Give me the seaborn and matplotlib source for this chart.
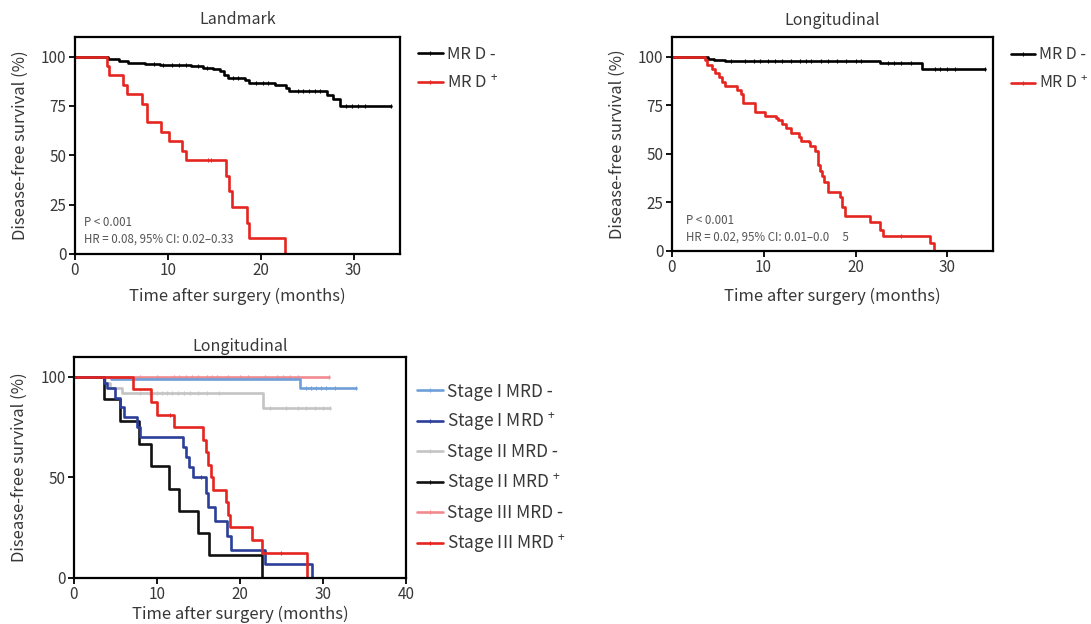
import numpy as np
import matplotlib.pyplot as plt
from matplotlib.lines import Line2D
import seaborn as sns

sns.set_style('ticks')
plt.rcParams['font.family'] = ['Noto Sans CJK SC', 'DejaVu Sans']
plt.rcParams['font.weight'] = 'light'
plt.rcParams['mathtext.default'] = 'regular'

TXT = '#383838'

# ---------------------------------------------------------------------------
# Dane (czas w miesiącach, przeżycie w %)
# ---------------------------------------------------------------------------

# Landmark
lm_neg_t = [0, 3.6, 4.7, 5.7, 7.5, 9.2, 12.5, 13.8, 14.9, 15.6, 16.0, 16.5,
            18.3, 18.7, 21.5, 22.7, 23.0, 27.1, 27.8, 28.5, 34.0]
lm_neg_s = [100, 99, 98, 97, 96.5, 96, 95.4, 94.4, 93.6, 92.7, 90.7, 89.3,
            88.1, 86.5, 85.5, 84, 82.5, 80.5, 78.6, 75, 75]
lm_neg_c = [8.5, 9.5, 10.5, 11.2, 12.0, 13.2, 14.2, 17.0, 17.6, 19.5, 20.2,
            20.8, 24.0, 24.6, 25.2, 25.8, 26.4, 29.2, 29.8, 30.5, 31.2, 34.0]
lm_pos_t = [0, 3.5, 3.7, 5.2, 5.6, 7.2, 7.8, 9.3, 10.1, 11.5, 12.0, 16.3,
            16.6, 16.9, 18.5, 18.7, 22.6]
lm_pos_s = [100, 95.2, 90.5, 85.7, 81.0, 76.2, 66.7, 61.9, 57.1, 52.4, 47.6,
            39.7, 31.7, 23.8, 15.9, 7.9, 0]
lm_pos_c = [14.3, 14.7]

# Longitudinal
lg_neg_t = [0, 4.0, 4.6, 5.8, 22.7, 27.2, 34.1]
lg_neg_s = [100, 99.1, 98.4, 97.9, 96.6, 93.5, 93.5]
lg_neg_c = [6.5, 8.0, 9.0, 9.6, 10.5, 11.2, 12.0, 13.0, 14.0, 14.6, 15.2,
            16.2, 17.0, 18.0, 19.0, 20.0, 20.6, 23.5, 24.2, 25.0, 26.0,
            28.6, 29.2, 30.0, 30.8, 34.1]
lg_pos_t = [0, 3.6, 3.8, 4.4, 4.7, 5.1, 5.5, 5.8, 7.1, 7.5, 7.8, 9.1, 10.2,
            11.3, 11.6, 12.0, 12.4, 13.0, 13.8, 14.1, 14.9, 15.1, 15.6, 15.9,
            16.1, 16.4, 16.6, 17.0, 18.3, 18.5, 18.9, 21.6, 22.7, 23.0, 28.1,
            28.5]
lg_pos_s = [100, 98.3, 95.7, 93.6, 91.5, 89.4, 87.2, 85.1, 82.8, 80.9, 76.3,
            71.7, 69.6, 68.3, 67.2, 65.4, 63.1, 60.9, 58.7, 56.8, 56.0, 53.8,
            51.6, 44.5, 41.0, 38.5, 35.5, 30.5, 28.0, 22.8, 17.8, 14.9, 10.8,
            7.6, 3.8, 0]
lg_pos_c = [25.0]

# Longitudinal wg stadium
s1_neg_t = [0, 4.5, 27.2, 34.0]
s1_neg_s = [100, 99, 94.5, 94.5]
s1_neg_c = [28.0, 28.6, 29.2, 29.8, 30.4, 31.5, 34.0]
s1_pos_t = [0, 3.6, 4.0, 5.0, 5.5, 6.0, 7.6, 8.0, 13.1, 13.5, 13.9, 14.3,
            15.9, 16.1, 17.0, 18.4, 18.9, 23.0, 28.7]
s1_pos_s = [100, 97, 94.5, 89.5, 85, 80, 75, 70, 65, 60, 55, 50, 42, 35, 28,
            21, 14, 7, 0]
s1_pos_c = [15.3]
s2_neg_t = [0, 3.7, 4.3, 5.8, 22.8, 30.9]
s2_neg_s = [100, 97, 94.5, 91.8, 84.7, 84.7]
s2_neg_c = [8.0, 9.0, 10.0, 10.6, 11.2, 11.8, 12.5, 13.3, 14.0, 15.0, 16.0,
            17.5, 23.6, 25.5, 27.0, 28.0, 29.0, 30.0, 30.9]
s2_pos_t = [0, 3.6, 5.6, 7.8, 9.3, 11.5, 12.6, 15.0, 16.3, 22.7]
s2_pos_s = [100, 88.9, 77.8, 66.7, 55.6, 44.4, 33.3, 22.2, 11.1, 0]
s3_neg_t = [0, 30.7]
s3_neg_s = [100, 100]
s3_neg_c = [8.0, 10.0, 12.0, 12.6, 13.5, 14.2, 15.0, 16.0, 16.6, 17.2, 18.5,
            20.0, 21.0, 23.0, 24.5, 25.2, 26.0, 27.0, 30.7]
s3_pos_t = [0, 7.1, 9.3, 10.0, 12.1, 15.5, 15.9, 16.2, 16.5, 16.7, 18.3, 18.6,
            18.8, 21.5, 22.7, 28.1]
s3_pos_s = [100, 93.75, 87.5, 81.25, 75, 68.75, 62.5, 56.25, 50, 43.75, 37.5,
            31.25, 25, 18.75, 12.5, 0]
s3_pos_c = [11.6, 25.0]

mrd_labels = ['MR D -', 'MR D $^{+}$']
stage_labels = ['Stage I MRD -', 'Stage I MRD $^{+}$', 'Stage II MRD -',
                'Stage II MRD $^{+}$', 'Stage III MRD -', 'Stage III MRD $^{+}$']
stage_colors = ['#6f9fd8', '#2b3e98', '#c4c4c4', '#111111', '#f08a8f', '#e52620']


def draw_km(ax, t, s, color, censors=()):
    """Krzywa Kaplana-Meiera (schodkowa) + znaczniki cenzurowania."""
    sns.lineplot(x=t, y=s, drawstyle='steps-post', estimator=None, sort=False,
                 color=color, lw=1.9, ax=ax)
    if len(censors):
        idx = np.searchsorted(t, censors, side='right') - 1
        ax.plot(censors, np.array(s)[idx], ls='none', marker='|', ms=2.6,
                mew=0.8, color=color)


def style_ax(ax, title, xmax, xticks, yticks, title_pad=9, xpad=6, ypad=9):
    ax.set_xlim(0, xmax)
    ax.set_ylim(0, 110)
    ax.set_xticks(xticks)
    ax.set_yticks(yticks)
    ax.set_title(title, fontsize=11.5, color=TXT, pad=title_pad)
    ax.set_xlabel('Time after surgery (months)', fontsize=12, color=TXT, labelpad=xpad)
    ax.set_ylabel('Disease-free survival (%)', fontsize=12, color=TXT, labelpad=ypad)
    ax.tick_params(direction='out', length=4, width=1.3, labelsize=11,
                   labelcolor=TXT, color='black', pad=2)
    for sp in ax.spines.values():
        sp.set_visible(True)
        sp.set_linewidth(1.6)
        sp.set_color('black')


def km_legend(ax, labels, colors, x, y, fontsize, spacing):
    handles = [Line2D([], [], color=c, lw=1.9, marker='|', ms=2.5, mew=0.8)
               for c in colors]
    ax.legend(handles, labels, loc='upper left', bbox_to_anchor=(x, y),
              bbox_transform=ax.figure.transFigure, frameon=False,
              fontsize=fontsize, handlelength=1.5, handletextpad=0.25,
              labelspacing=spacing, borderpad=0, borderaxespad=0,
              labelcolor=TXT)


fig = plt.figure(figsize=(10.91, 6.24), dpi=100)
ax1 = fig.add_axes([0.0687, 0.593, 0.2979, 0.3478])
ax2 = fig.add_axes([0.6157, 0.598, 0.2948, 0.342])
ax3 = fig.add_axes([0.0678, 0.0742, 0.3043, 0.354])

# Panel 1: Landmark
draw_km(ax1, lm_neg_t, lm_neg_s, 'black', lm_neg_c)
draw_km(ax1, lm_pos_t, lm_pos_s, '#e52620', lm_pos_c)
style_ax(ax1, 'Landmark', 35, [0, 10, 20, 30], [0, 25, 50, 75, 100])
ax1.text(1.0, 16, 'P < 0.001', fontsize=8.3, color='#555555', va='center')
ax1.text(1.0, 7.5, 'HR = 0.08, 95% CI: 0.02–0.33', fontsize=8.3,
         color='#555555', va='center')
km_legend(ax1, mrd_labels, ['black', '#e52620'], 0.383, 0.927, 12, 0.7)

# Panel 2: Longitudinal
draw_km(ax2, lg_neg_t, lg_neg_s, 'black', lg_neg_c)
draw_km(ax2, lg_pos_t, lg_pos_s, '#e52620', lg_pos_c)
style_ax(ax2, 'Longitudinal', 35, [0, 10, 20, 30], [0, 25, 50, 75, 100], xpad=8)
ax2.text(1.5, 15.8, 'P < 0.001', fontsize=8.3, color='#555555', va='center')
ax2.text(1.5, 7.0, 'HR = 0.02, 95% CI: 0.01–0.0     5', fontsize=8.3,
         color='#555555', va='center')
km_legend(ax2, mrd_labels, ['black', '#e52620'], 0.9266, 0.926, 11.5, 0.75)

# Panel 3: Longitudinal wg stadium
draw_km(ax3, s3_neg_t, s3_neg_s, stage_colors[4], s3_neg_c)
draw_km(ax3, s1_neg_t, s1_neg_s, stage_colors[0], s1_neg_c)
draw_km(ax3, s2_neg_t, s2_neg_s, stage_colors[2], s2_neg_c)
draw_km(ax3, s2_pos_t, s2_pos_s, stage_colors[3])
draw_km(ax3, s1_pos_t, s1_pos_s, stage_colors[1], s1_pos_c)
draw_km(ax3, s3_pos_t, s3_pos_s, stage_colors[5], s3_pos_c)
style_ax(ax3, 'Longitudinal', 40, [0, 10, 20, 30, 40], [0, 50, 100],
         title_pad=4, xpad=2)
km_legend(ax3, stage_labels, stage_colors, 0.382, 0.387, 12.5, 0.58)

plt.savefig('out.png', dpi=100)
plt.close()
